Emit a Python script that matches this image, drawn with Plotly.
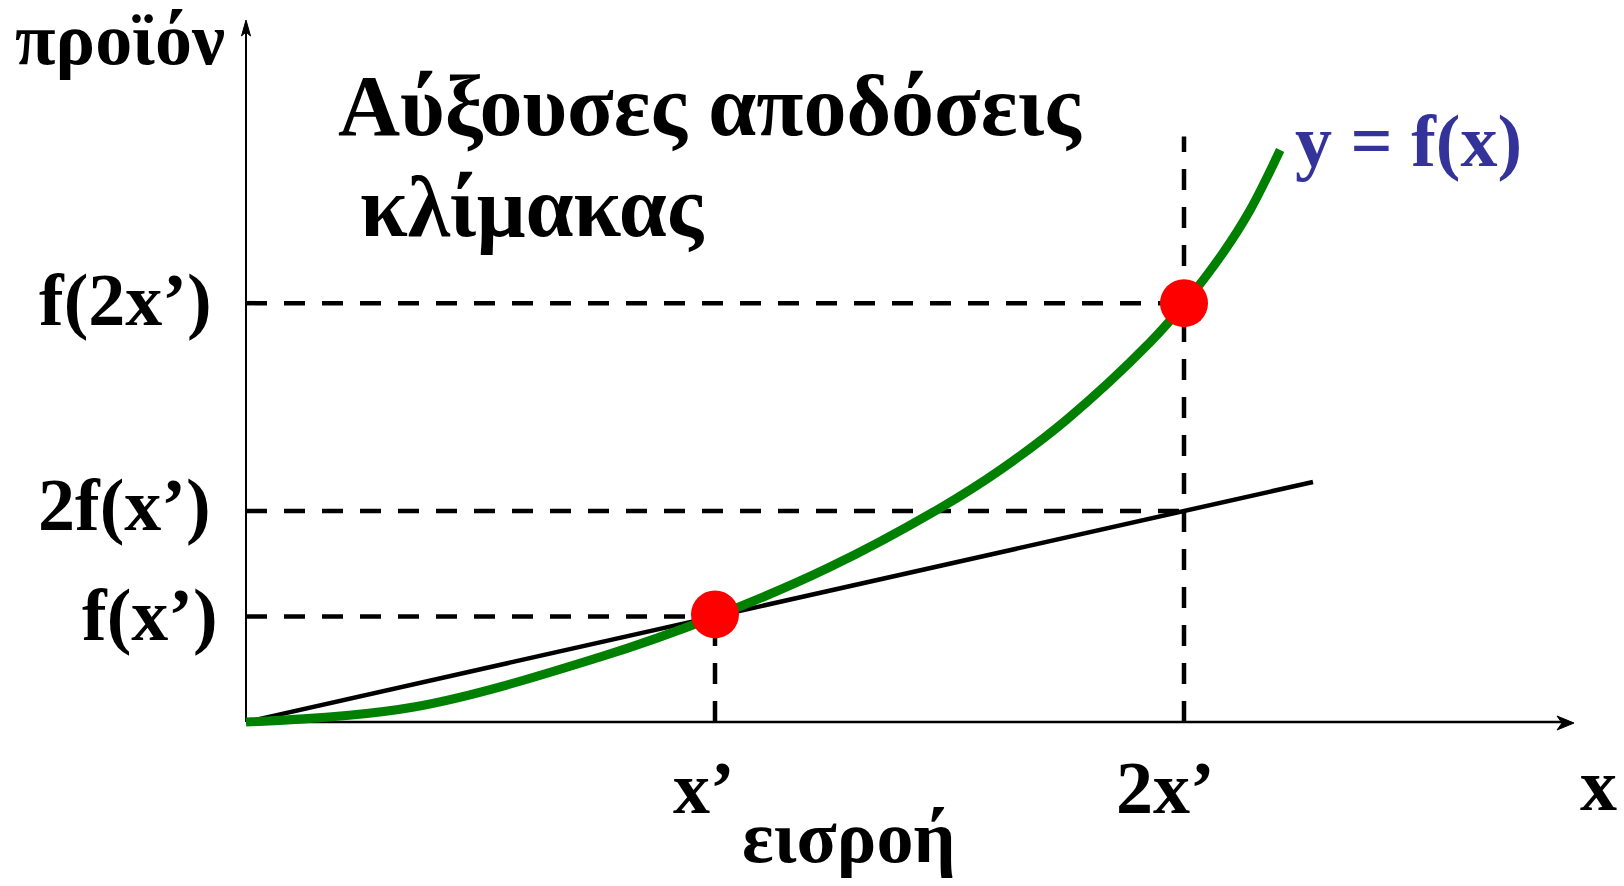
import plotly.graph_objects as go

# ---------------- data (in units of x' and f(x')) ----------------
curve_x = [0.0, 0.358, 0.755, 1.0, 1.24, 1.48, 1.608, 1.749, 1.928, 2.0, 2.083, 2.141, 2.205]
curve_y = [0.0, 0.142, 0.616, 1.0, 1.458, 2.028, 2.389, 2.863, 3.60, 3.96, 4.445, 4.853, 5.422]

ray_x = [0.0, 2.275]
ray_y = [0.0, 2.275]

point_x = [1.0, 2.0]
point_y = [1.02, 3.97]

x_tick_vals = [1.0, 2.0]
x_tick_text = ["x’", "2x’"]
y_tick_vals = [1.0, 2.0, 3.97]
y_tick_text = ["f(x’)", "2f(x’)", "f(2x’)"]
vline_top = [1.0, 5.55]

title_lines = ["Αύξουσες αποδόσεις", "κλίμακας"]
y_axis_title = "προϊόν"
x_axis_title = "εισροή"
x_axis_symbol = "x"
curve_label = "y = f(x)"

# ---------------- geometry ----------------
W, H = 1624, 886
X0, UX = 246.0, 469.0     # pixel of origin, pixels per unit
Y0, UY = 722.0, 105.5

xr = [(0 - X0) / UX, (W - X0) / UX]
yr = [(Y0 - H) / UY, (Y0 - 0) / UY]

def px(u):  # paper x from pixel
    return u / W

def py(v):  # paper y from pixel
    return 1 - v / H

FONT = "Liberation Serif"
FS = 74
BLACK = "#000000"
GREEN = "#008000"
RED = "#FF0000"
BLUE = "#333399"
DASH = "21px,17px"

fig = go.Figure()

guides = [
    ([0, point_x[1]], [y_tick_vals[2], y_tick_vals[2]]),
    ([0, x_tick_vals[1]], [y_tick_vals[1], y_tick_vals[1]]),
    ([0, point_x[0]], [y_tick_vals[0], y_tick_vals[0]]),
    ([x_tick_vals[0], x_tick_vals[0]], [0, vline_top[0]]),
    ([x_tick_vals[1], x_tick_vals[1]], [0, vline_top[1]]),
]
for gx, gy in guides:
    fig.add_trace(go.Scatter(x=gx, y=gy, mode="lines",
                             line=dict(color=BLACK, width=4.5, dash=DASH),
                             hoverinfo="skip", showlegend=False))

# axes
fig.add_trace(go.Scatter(x=[0, xr[0] + (1566 / W) * (xr[1] - xr[0])], y=[0, 0], mode="lines",
                         line=dict(color=BLACK, width=2.5), hoverinfo="skip", showlegend=False))
fig.add_trace(go.Scatter(x=[0, 0], y=[0, yr[0] + (1 - 28 / H) * (yr[1] - yr[0])], mode="lines",
                         line=dict(color=BLACK, width=2), hoverinfo="skip", showlegend=False))

# ray through (x', f(x'))
fig.add_trace(go.Scatter(x=ray_x, y=ray_y, mode="lines",
                         line=dict(color=BLACK, width=4.5), hoverinfo="skip", showlegend=False))

# production function
fig.add_trace(go.Scatter(x=curve_x, y=curve_y, mode="lines", line_shape="spline",
                         line=dict(color=GREEN, width=9), hoverinfo="skip", showlegend=False))

# points
fig.add_trace(go.Scatter(x=point_x, y=point_y, mode="markers",
                         marker=dict(color=RED, size=48, line=dict(width=0)),
                         hoverinfo="skip", showlegend=False))

# arrow heads (paper coords)
shapes = [
    dict(type="path", xref="paper", yref="paper", fillcolor=BLACK, line=dict(color=BLACK, width=1),
         path=f"M {px(1574)},{py(723)} L {px(1557)},{py(716)} L {px(1562)},{py(723)} L {px(1557)},{py(730)} Z"),
    dict(type="path", xref="paper", yref="paper", fillcolor=BLACK, line=dict(color=BLACK, width=1),
         path=f"M {px(246)},{py(20)} L {px(241.5)},{py(36)} L {px(246)},{py(32)} L {px(250.5)},{py(36)} Z"),
]

ann = []
def text(t, x, y, xa, color=BLACK, size=FS):
    ann.append(dict(text=f"<b>{t}</b>", x=px(x), y=py(y), xref="paper", yref="paper",
                    xanchor=xa, yanchor="middle", showarrow=False,
                    font=dict(family=FONT, size=size, color=color)))

text(y_tick_text[2], 214, 300, "right")
text(y_tick_text[1], 213, 505, "right")
text(y_tick_text[0], 220, 615, "right")
text(x_tick_text[0], 704, 788, "center")
text(x_tick_text[1], 1165, 788, "center")
text(x_axis_symbol, 1598, 785, "center")
text(x_axis_title, 848, 837, "center")
text(title_lines[0], 336, 106, "left", size=86)
text(title_lines[1], 358, 207, "left", size=86)
text(curve_label, 1293, 141, "left", color=BLUE)
text(y_axis_title, 13, 39, "left")

fig.update_layout(
    width=W, height=H, margin=dict(l=0, r=0, t=0, b=0),
    paper_bgcolor="white", plot_bgcolor="white",
    xaxis=dict(range=xr, visible=False, fixedrange=True),
    yaxis=dict(range=yr, visible=False, fixedrange=True),
    shapes=shapes, annotations=ann, showlegend=False,
)

fig.write_html("out.html", config={"displayModeBar": False},
               post_script="document.body.style.margin='0px';document.body.style.padding='0px';document.body.style.overflow='hidden';")
